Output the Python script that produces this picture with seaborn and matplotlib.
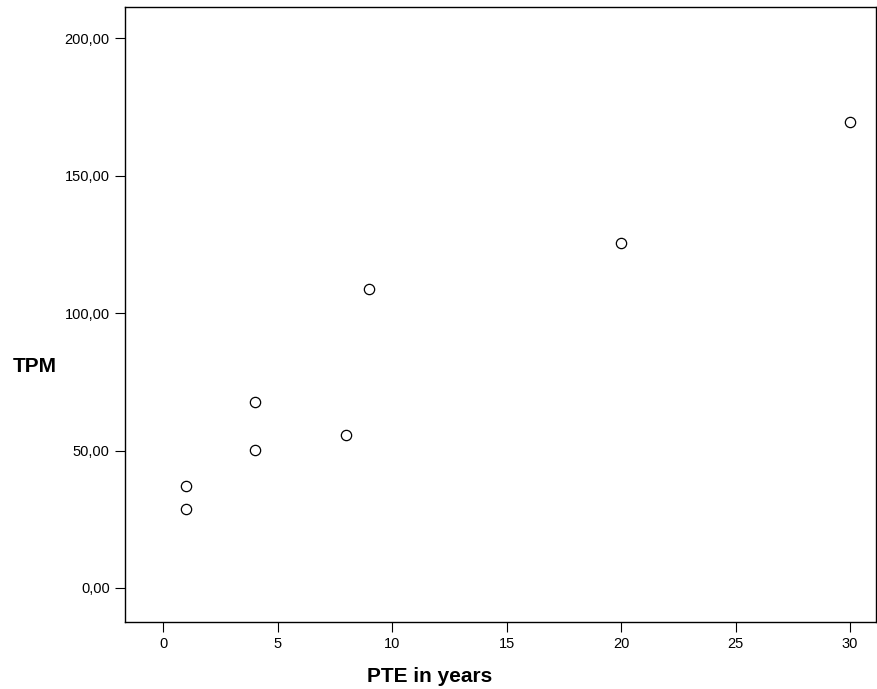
import numpy as np
import pandas as pd
import seaborn as sns
import matplotlib.pyplot as plt
from matplotlib.ticker import FuncFormatter

# values
pte_years = [1, 1, 4, 4, 8, 9, 20, 30]
tpm = [28.6, 37.0, 50.2, 67.5, 55.6, 108.7, 125.5, 169.4]
x_ticks = [0, 5, 10, 15, 20, 25, 30]
y_ticks = [0, 50, 100, 150, 200]

df = pd.DataFrame({'PTE': pte_years, 'TPM': tpm})

sns.set_style('white')
plt.rcParams['font.family'] = ['Liberation Sans', 'DejaVu Sans']
plt.rcParams['text.color'] = 'black'
plt.rcParams['xtick.color'] = 'black'
plt.rcParams['ytick.color'] = 'black'
plt.rcParams['axes.labelcolor'] = 'black'

fig = plt.figure(figsize=(8.78, 6.89), dpi=100)
ax = fig.add_axes([0.1424, 0.0972, 0.8553, 0.8926])

sns.scatterplot(data=df, x='PTE', y='TPM', ax=ax, marker='o', s=55,
                facecolor='white', edgecolor='black', linewidth=0.9)

ax.set_xlim(-1.67, 31.13)
ax.set_ylim(-12.4, 211.4)
ax.set_xticks(x_ticks)
ax.set_yticks(y_ticks)
ax.yaxis.set_major_formatter(FuncFormatter(lambda v, p: f'{v:.2f}'.replace('.', ',')))
ax.tick_params(direction='out', length=7, width=0.8, color='black', labelcolor='black',
               labelsize=10.5, pad=4, bottom=True, left=True)

for sp in ax.spines.values():
    sp.set_color('black')
    sp.set_linewidth(1.0)

ax.set_xlabel('')
ax.set_ylabel('')
fig.text(430 / 878, 1 - 677 / 689, 'PTE in years', fontsize=15, fontweight='bold',
         ha='center', va='center', color='black')
fig.text(35 / 878, 1 - 367 / 689, 'TPM', fontsize=15, fontweight='bold',
         ha='center', va='center', color='black')

fig.savefig('out.png', dpi=100)
